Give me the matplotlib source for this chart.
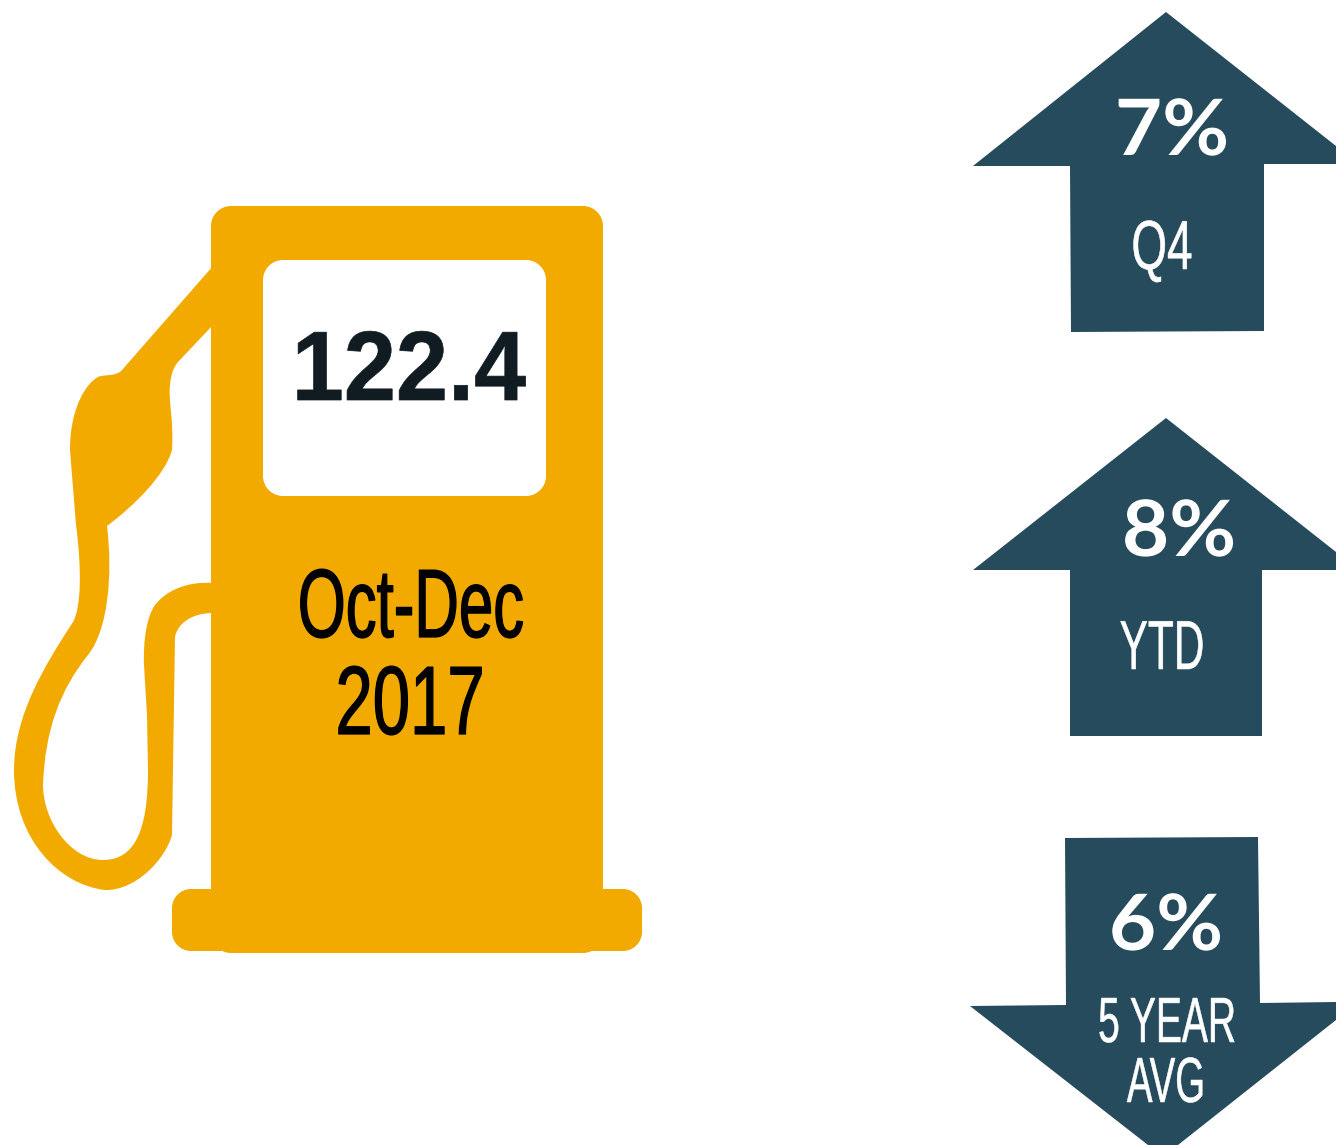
import matplotlib
matplotlib.use('Agg')
import matplotlib.pyplot as plt
from matplotlib.patches import PathPatch, Polygon
from matplotlib.path import Path
from matplotlib.patheffects import AbstractPathEffect
from matplotlib.transforms import Affine2D

price = '122.4'
period = ['Oct-Dec', '2017']
changes = ['7%', '8%', '6%']
change_labels = [['Q4'], ['YTD'], ['5 YEAR', 'AVG']]

ORANGE = '#F2AA00'
TEAL = '#254B5C'


class Squeeze(AbstractPathEffect):
    # narrows the glyphs around cx, no condensed futura on this machine
    def __init__(self, cx, sx, stroke=0):
        super().__init__()
        self.cx = cx
        self.sx = sx
        self.stroke = stroke

    def draw_path(self, renderer, gc, tpath, affine, rgbFace=None):
        squeeze = Affine2D().translate(-self.cx, 0).scale(self.sx, 1).translate(self.cx, 0)
        gc0 = renderer.new_gc()
        gc0.copy_properties(gc)
        if self.stroke:
            gc0.set_foreground(rgbFace)
            gc0.set_linewidth(self.stroke)
        renderer.draw_path(gc0, tpath, affine + squeeze, rgbFace)
        gc0.restore()


def curve_path(start, segments):
    verts, codes = [start], [Path.MOVETO]
    for seg in segments:
        if len(seg) == 1:
            verts += seg
            codes += [Path.LINETO]
        else:
            verts += seg
            codes += [Path.CURVE4] * 3
    verts.append(start)
    codes.append(Path.CLOSEPOLY)
    return Path(verts, codes)


def rounded(ax, x0, y0, x1, y1, r, color):
    c = r * 0.45
    path = curve_path((x0 + r, y0), [
        [(x1 - r, y0)],
        [(x1 - c, y0), (x1, y0 + c), (x1, y0 + r)],
        [(x1, y1 - r)],
        [(x1, y1 - c), (x1 - c, y1), (x1 - r, y1)],
        [(x0 + r, y1)],
        [(x0 + c, y1), (x0, y1 - c), (x0, y1 - r)],
        [(x0, y0 + r)],
        [(x0, y0 + c), (x0 + c, y0), (x0 + r, y0)],
    ])
    ax.add_patch(PathPatch(path, fc=color, ec='none'))


def label(ax, x, y, s, size, sx=1.0, stroke=0, **kw):
    t = ax.text(x, y, s, fontsize=size, ha='center', va='baseline', **kw)
    t.set_path_effects([Squeeze(x, sx, stroke)])
    return t


fig = plt.figure(figsize=(13.36, 11.45), dpi=100)
ax = fig.add_axes([0, 0, 1, 1])
ax.set_xlim(0, 1336)
ax.set_ylim(1145, 0)
ax.axis('off')

# pump
rounded(ax, 211, 206, 603, 953, 20, ORANGE)
rounded(ax, 172, 889, 642, 951, 19, ORANGE)
rounded(ax, 263, 260, 546, 496, 20, 'white')

hose = curve_path((213, 266), [
    [(122, 370)],
    [(116, 377), (104, 374), (98, 377)],
    [(88, 382), (70, 405), (70, 450)],
    [(76, 525)],
    [(82, 570), (81, 608), (73, 622)],
    [(45, 665), (14, 715), (14, 770)],
    [(14, 840), (60, 885), (105, 890)],
    [(135, 891), (165, 860), (172, 835)],
    [(175, 637)],
    [(177, 625), (190, 613), (213, 613)],
    [(213, 583)],
    [(185, 581), (165, 592), (155, 605)],
    [(147, 616), (143, 640), (144, 665)],
    [(147, 715)],
    [(148, 770)],
    [(148, 830), (135, 860), (103, 860)],
    [(70, 860), (43, 820), (43, 785)],
    [(45, 730), (60, 690), (88, 655)],
    [(108, 630), (113, 575), (107, 526)],
    [(135, 505), (165, 475), (172, 450)],
    [(174, 420), (168, 400), (170, 385)],
    [(171, 375), (173, 368), (178, 362)],
    [(213, 325)],
])
ax.add_patch(PathPatch(hose, fc=ORANGE, ec='none'))

label(ax, 409, 400, price, 71, sx=0.95, stroke=0.5, family='Liberation Sans', fontweight='bold', color='#101C22')
label(ax, 411, 637, period[0], 70, sx=0.635, stroke=0.9, family='Liberation Sans', color='black')
label(ax, 410, 734, period[1], 70, sx=0.69, stroke=0.9, family='Liberation Sans', color='black')

# arrows
ax.add_patch(Polygon([(1166, 12), (1336, 146), (1336, 164), (1264, 164), (1264, 331),
                      (1071, 332), (1070, 166), (973, 166)], fc=TEAL, ec='none'))
ax.add_patch(Polygon([(1166, 418), (1336, 552), (1336, 570), (1262, 570), (1262, 736),
                      (1070, 736), (1070, 570), (973, 570)], fc=TEAL, ec='none'))
ax.add_patch(Polygon([(1065, 838), (1258, 837), (1260, 1003), (1336, 1002), (1336, 1020),
                      (1178, 1145), (1148, 1145), (970, 1006), (1066, 1005)], fc=TEAL, ec='none'))

pct_font = dict(family='Lato', fontweight='bold', color='white')
label(ax, 1172, 155, changes[0], 56, sx=1.05, **pct_font)
label(ax, 1179, 556, changes[1], 56, sx=1.05, **pct_font)
label(ax, 1166, 950, changes[2], 56, sx=1.05, **pct_font)

tag_font = dict(family='Liberation Sans', color='white')
label(ax, 1162, 269, change_labels[0][0], 50, sx=0.66, stroke=0.4, **tag_font)
label(ax, 1162, 669, change_labels[1][0], 50, sx=0.61, stroke=0.4, **tag_font)
label(ax, 1167, 1042, change_labels[2][0], 46, sx=0.61, stroke=0.4, **tag_font)
label(ax, 1166, 1102, change_labels[2][1], 46, sx=0.60, stroke=0.4, **tag_font)

fig.savefig('out.png', dpi=100)
